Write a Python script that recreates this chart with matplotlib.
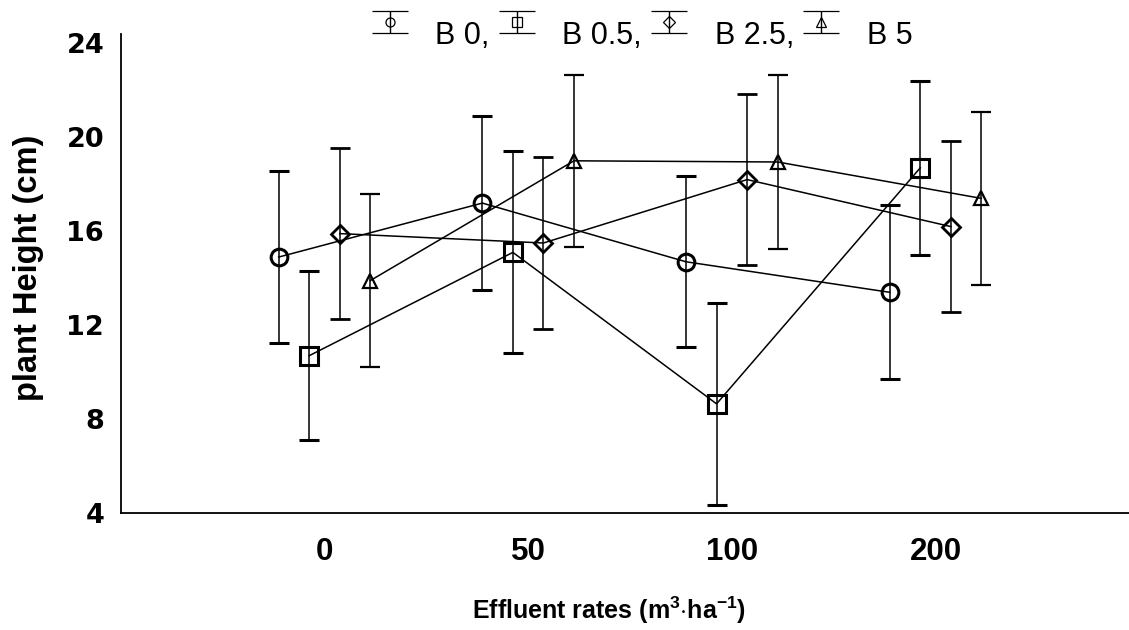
import numpy as np
import matplotlib
matplotlib.use('Agg')
import matplotlib.pyplot as plt
from matplotlib.legend_handler import HandlerErrorbar
from matplotlib.transforms import Affine2D

plt.rcParams['font.family'] = ['Liberation Sans', 'DejaVu Sans']
plt.rcParams['mathtext.fontset'] = 'custom'
plt.rcParams['mathtext.rm'] = 'Liberation Sans'
plt.rcParams['mathtext.bf'] = 'Liberation Sans:bold'
plt.rcParams['mathtext.default'] = 'bf'

# effluent rates (categories) and boron treatments
rates = ['0', '50', '100', '200']
series = ['B 0,', 'B 0.5,', 'B 2.5,', 'B 5']

# plant height (cm)
b0 = [14.9, 17.2, 14.7, 13.4]
b05 = [10.7, 15.1, 8.65, 18.7]
b25 = [15.9, 15.5, 18.2, 16.2]
b5 = [13.9, 19.0, 18.95, 17.4]

# error bars
b0_err = [3.65, 3.7, 3.65, 3.7]
b05_err = [3.6, 4.3, 4.3, 3.7]
b25_err = [3.65, 3.65, 3.65, 3.65]
b5_err = [3.7, 3.65, 3.7, 3.7]

values = [b0, b05, b25, b5]
errors = [b0_err, b05_err, b25_err, b5_err]
offsets = [-0.225, -0.075, 0.075, 0.225]
markers = ['o', 's', 'D', '^']
msizes = [12, 12.5, 9, 10.5]
mews = [2.2, 2.2, 2.0, 1.6]


class RaisedErrorbar(HandlerErrorbar):
    # legend glyph sits a bit higher than its label, as in the original
    def create_artists(self, legend, orig_handle, xdescent, ydescent, width, height,
                       fontsize, trans):
        return super().create_artists(legend, orig_handle, xdescent, ydescent, width,
                                      height, fontsize, Affine2D().translate(0, 8.5) + trans)


fig = plt.figure(figsize=(11.29, 6.30), dpi=100)
ax = fig.add_axes([0.107, 0.1857, 0.893, 0.7603])

x = np.arange(len(rates))
for vals, err, off, m, ms, mew in zip(values, errors, offsets, markers, msizes, mews):
    ax.errorbar(x + off, vals, yerr=err, color='black', lw=1.1, elinewidth=1.1,
                capsize=7, capthick=1.1, marker=m, ms=ms, mew=mew, mfc='none', mec='black')

# legend proxies: errorbar glyph without the connecting line
handles = []
for m in markers:
    h = ax.errorbar([np.nan], [np.nan], yerr=[1], ls='none', color='black', elinewidth=1.0,
                    capsize=13, capthick=1.4, marker=m, ms=6.5, mew=0.9, mfc='none', mec='black')
    handles.append(h)

ax.set_xlim(-1.0, 3.95)
ax.set_ylim(4, 24.4)
ax.set_yticks([4, 8, 12, 16, 20, 24])
ax.set_xticks(x)
ax.set_xticklabels(rates)

ax.spines['top'].set_visible(False)
ax.spines['right'].set_visible(False)
ax.spines['left'].set_linewidth(1.3)
ax.spines['bottom'].set_linewidth(1.3)
ax.tick_params(axis='both', length=0)
ax.tick_params(axis='x', pad=17)
ax.tick_params(axis='y', pad=12)
for t in ax.get_yticklabels():
    t.set_fontfamily('DejaVu Sans')
    t.set_fontweight('bold')
    t.set_fontsize(19.5)
for t in ax.get_xticklabels():
    t.set_fontweight('bold')
    t.set_fontsize(22.5)

fig.text(609 / 1129, 1 - 610 / 630, r'Effluent rates (m$^{3}$$\cdot$ha$^{-1}$)',
         fontsize=18, fontweight='bold', ha='center', va='center')
fig.text(29 / 1129, 1 - 268 / 630, 'plant Height (cm)', fontsize=23.5, fontweight='bold',
         rotation=90, ha='center', va='center')

fig.legend(handles, series, loc='center', bbox_to_anchor=(642 / 1129, 1 - 36 / 630),
           ncol=4, frameon=False, fontsize=22, handlelength=1.18, handletextpad=0.9,
           columnspacing=0.3, borderpad=0, borderaxespad=0,
           handler_map={type(handles[0]): RaisedErrorbar(yerr_size=0.36)})

fig.savefig('out.png', dpi=100)
